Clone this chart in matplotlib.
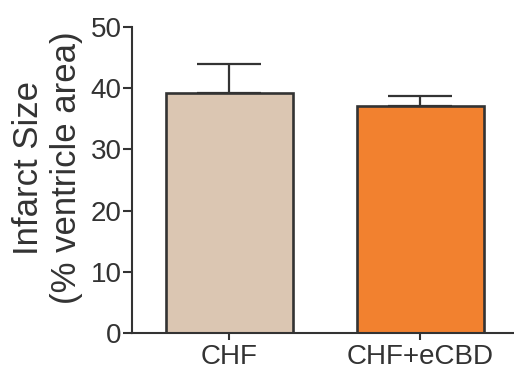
import matplotlib
matplotlib.use("Agg")
import matplotlib.pyplot as plt

categories = ["CHF", "CHF+eCBD"]
values = [39.2, 37.1]
errors_up = [4.8, 1.7]
bar_colors = ["#dbc6b2", "#f2812f"]
yticks = [0, 10, 20, 30, 40, 50]

plt.rcParams['font.family'] = ['Liberation Sans', 'DejaVu Sans']
dark = "#333333"

fig = plt.figure(figsize=(5.14, 3.70), dpi=100)
ax = fig.add_axes([0.2568, 0.1, 0.7432, 0.827])

x = list(range(len(categories)))
ax.bar(x, values, width=0.665, color=bar_colors, edgecolor=dark, linewidth=1.9, zorder=2)
ax.errorbar(x, values, yerr=[[0]*len(values), errors_up], fmt='none', ecolor=dark,
            elinewidth=1.6, capsize=23, capthick=1.6, zorder=1)

ax.set_xlim(-0.508, 1.492)
ax.set_ylim(0, 50)
ax.set_yticks(yticks)
ax.set_xticks(x)
ax.set_xticklabels(categories)

for s in ["top", "right"]:
    ax.spines[s].set_visible(False)
for s in ["left", "bottom"]:
    ax.spines[s].set_linewidth(1.5)
    ax.spines[s].set_color(dark)

ax.tick_params(axis='y', direction='out', length=6.5, width=1.5, color=dark,
               labelsize=20, labelcolor=dark, pad=1)
ax.tick_params(axis='x', direction='out', length=5, width=1.5, color=dark,
               labelsize=20, labelcolor=dark, pad=3)

ax.set_ylabel("Infarct Size\n(% ventricle area)", fontsize=25, color=dark, linespacing=1.2)
ax.yaxis.set_label_coords(-0.128, 0.539)

fig.savefig("out.png", dpi=100)
